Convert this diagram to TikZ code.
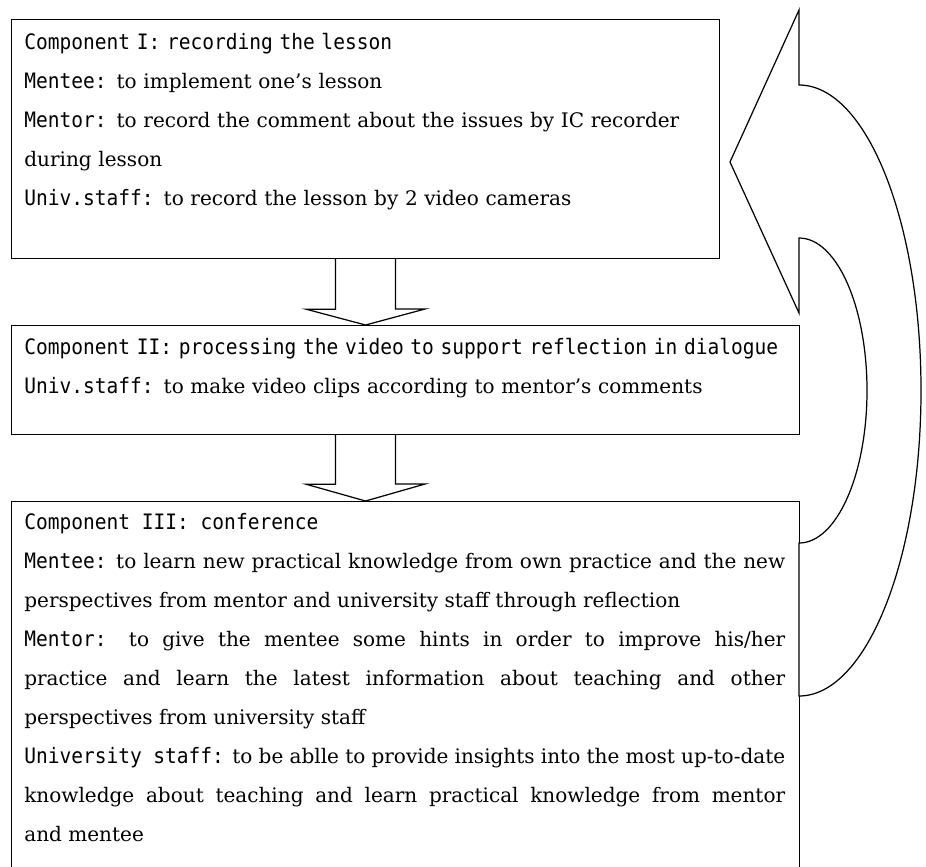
\documentclass[tikz,border=0pt]{standalone}
\usepackage{fontspec}
\setmainfont{DejaVu Serif}
\newfontfamily\lblfont[FakeStretch=0.92, Scale=1.06]{DejaVu Sans Mono}
\usetikzlibrary{calc}
\newcommand{\lbl}[1]{{\lblfont #1}}
\setlength{\parindent}{0pt}
\hyphenpenalty=10000
\exhyphenpenalty=10000
\begin{document}
\begin{tikzpicture}[x=0.02cm, y=-0.02cm,
    compbox/.style={draw, line width=0.7pt, anchor=north west, inner sep=0pt},
    comptext/.style={anchor=base west, inner sep=0pt, text width=#1,
      font=\fontsize{11.4}{22.2}\selectfont},
    blockarrow/.style={draw, fill=white, line width=0.7pt, line join=miter}]
  \useasboundingbox (0,0) rectangle (926,866);
  \clip (0,0) rectangle (926,866);

  \node[compbox, minimum width=14.16cm, minimum height=4.78cm] at (11,19) (comp1) {};
  \node[compbox, minimum width=15.76cm, minimum height=2.18cm] at (11,325) (comp2) {};
  \node[compbox, minimum width=15.76cm, minimum height=7.6cm] at (11,501) (comp3) {};

  \node[comptext=13.9cm, align=left] at (24,49) (comp1text) {%
    \lbl{Component I: recording the lesson}\\
    \lbl{Mentee:} to implement one’s lesson\\
    \lbl{Mentor:} to record the comment about the issues by IC recorder\\
    during lesson\\
    \lbl{Univ.staff:} to record the lesson by 2 video cameras};
  \node[comptext=15.22cm, align=left] at (24,354) (comp2text) {%
    \lbl{Component II: processing the video to support reflection in dialogue}\\
    \lbl{Univ.staff:} to make video clips according to mentor’s comments};
  \node[comptext=15.22cm, align=justify] at (24,529) (comp3text) {%
    \lbl{Component III: conference}\par
    \lbl{Mentee:} to learn new practical knowledge from own practice and the new\linebreak
    perspectives from mentor and university staff through reflection\par
    \lbl{Mentor:} to give the mentee some hints in order to improve his/her\linebreak
    practice and learn the latest information about teaching and other\linebreak
    perspectives from university staff\par
    \lbl{University staff:} to be ablle to provide insights into the most up-to-date\linebreak
    knowledge about teaching and learn practical knowledge from mentor\linebreak
    and mentee};

  \draw[blockarrow] ($(comp1.south)+(-30,0)$) -- ++(0,50) -- ++(-29.5,0)
    -- (comp1.south |- comp2.north) -- ++(59.5,-16) -- ++(-29.5,0)
    -- ($(comp1.south)+(30,0)$);
  \draw[blockarrow] ($(comp1.south |- comp2.south)+(-30,0)$) -- ++(0,49) -- ++(-29.5,0)
    -- (comp1.south |- comp3.north) -- ++(59.5,-17) -- ++(-29.5,0)
    -- ($(comp1.south |- comp2.south)+(30,0)$);

  \draw[blockarrow] (799,10) -- (799,85)
    arc[start angle=-90, end angle=90, x radius=122, y radius=305.5]
    -- (799,543)
    arc[start angle=90, end angle=-90, x radius=68, y radius=152.5]
    -- (799,313) -- (730,162) -- cycle;
\end{tikzpicture}
\end{document}
